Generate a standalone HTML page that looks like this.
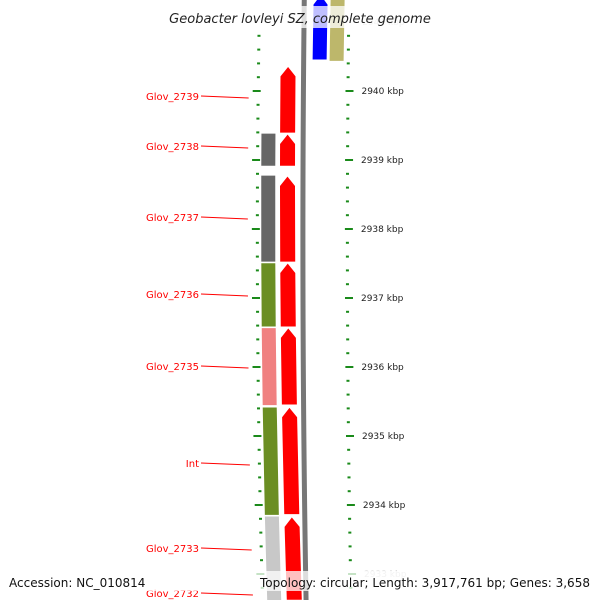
<!DOCTYPE html>
<html><head><meta charset="utf-8"><style>
body{margin:0;background:#fff;width:600px;height:600px;overflow:hidden}
svg{display:block;font-family:"DejaVu Sans","Liberation Sans",sans-serif}
</style></head><body>
<svg id="c" width="600" height="600" viewBox="0 0 600 600" overflow="hidden"></svg>
<script>
const geneNames=["Glov_2739","Glov_2738","Glov_2737","Glov_2736","Glov_2735","Int","Glov_2733","Glov_2732"];
const geneStart=[2940.36,2939.38,2938.77,2937.51,2936.57,2935.42,2933.83,2932.60];
const geneEnd=[2939.39,2938.91,2937.52,2936.58,2935.45,2933.86,2932.62,2932.3];
const labelY=[96,146,217,294,366,463,548,593];
const blockStart=[2939.39,2938.78,2937.51,2936.57,2935.42,2933.84];
const blockEnd=[2938.91,2937.52,2936.58,2935.44,2933.85,2932.6];
const blockColors=["#666666","#666666","#6b8e23","#f08080","#6b8e23","#c8c8c8"];
const otherStart=[2941.4,2941.4];
const otherEnd=[2940.45,2940.43];
const otherColors=["#0000ff","#bdb76b"];
const tickKbp=[2941,2940,2939,2938,2937,2936,2935,2934,2933];
const svg=document.getElementById('c');const NS='http://www.w3.org/2000/svg';
function y(k){return 91+(2940-k)*69;}
function xo(yy){return 4e-5*(yy-300)*(yy-300)+0.005*(yy-300);}
function mk(t,a,p){const e=document.createElementNS(NS,t);for(const k in a)e.setAttribute(k,a[k]);(p||svg).appendChild(e);return e;}
let bb='';for(let yy=0;yy<=600;yy+=20){bb+=(yy?'L':'M')+(303+xo(yy)*0.6)+' '+yy;}
const back=mk('path',{d:bb,stroke:'#777',"stroke-width":5,fill:'none'});


function band(x0,w,k1,k2,col,arrow,name,lean){
 const y1=Math.max(-20,y(k1)),y2=Math.min(610,y(k2));const g=mk('polygon',{fill:col});
 const a=arrow?Math.min(10,(y2-y1)/2):0;
 const L=q=>q[0]+xo(q[1])+lean*(q[1]-300);
 const p=[[x0,y1+a],[x0+w/2,y1],[x0+w,y1+a],[x0+w,y2],[x0,y2]];
 g.setAttribute('points',p.map(q=>L(q)+','+q[1]).join(' '));
 
 
 g.setAttribute('stroke','#fff');g.setAttribute('stroke-width','1');
}
geneStart.forEach((s,i)=>band(280,16,s,geneEnd[i],'#ff0000',true,'gene-'+geneNames[i].toLowerCase().replace('_','-'),0.004));
blockStart.forEach((s,i)=>band(261,15,s,blockEnd[i],blockColors[i],false,'cog-block-'+i,0.002));
otherStart.forEach((s,i)=>band(311+i*17,15,s,otherEnd[i],otherColors[i],i==0,'reverse-gene-'+i,0));
for(let k=2941.4;k>=2932.4;k-=0.2){const kk=Math.round(k*5)/5;const yy=y(kk);if(yy<30||yy>590)continue;
 const major=Math.abs(kk-Math.round(kk))<0.01;
 const l=mk('rect',{x:(major?252:256)+xo(yy),y:yy-1,width:major?8:3,height:2,fill:'#1a8a1a'});
 
 
 const r=mk('rect',{x:(major?345:346)+xo(yy)*0.7,y:yy-1,width:major?8:3,height:2,fill:'#1a8a1a'});
 
 
}
tickKbp.forEach(k=>{const yy=y(k);const t=mk('text',{x:361+xo(yy)*0.7,y:yy+3,"font-size":9,fill:(yy<40||yy>560)?'#ccc':'#222'});t.textContent=k+' kbp';
 
 });
geneNames.forEach((n,i)=>{const ly=labelY[i];
 const t=mk('text',{x:199,y:ly+4,"font-size":10,fill:'#ff0000',"text-anchor":'end'});t.textContent=n;
 
 
 const l=mk('line',{x1:201,y1:ly,x2:248+xo(ly),y2:ly+2,stroke:'#ff0000',"stroke-width":1});
 
 });
const tb=mk('rect',{x:160,y:6,width:290,height:22,fill:'rgba(255,255,255,0.75)'});


const tt=mk('text',{x:300,y:23,"font-size":13,"font-style":'italic',fill:'#222',"text-anchor":'middle'});tt.textContent='Geobacter lovleyi SZ, complete genome';


const bb2=mk('rect',{x:0,y:571,width:600,height:20,fill:'rgba(255,255,255,0.75)'});


const a1=mk('text',{x:9,y:587,"font-size":12,fill:'#111'});a1.textContent='Accession: NC_010814';


const a2=mk('text',{x:260,y:587,"font-size":12,fill:'#111',textLength:330,lengthAdjust:'spacingAndGlyphs'});a2.textContent='Topology: circular; Length: 3,917,761 bp; Genes: 3,658';


</script>
</body></html>
